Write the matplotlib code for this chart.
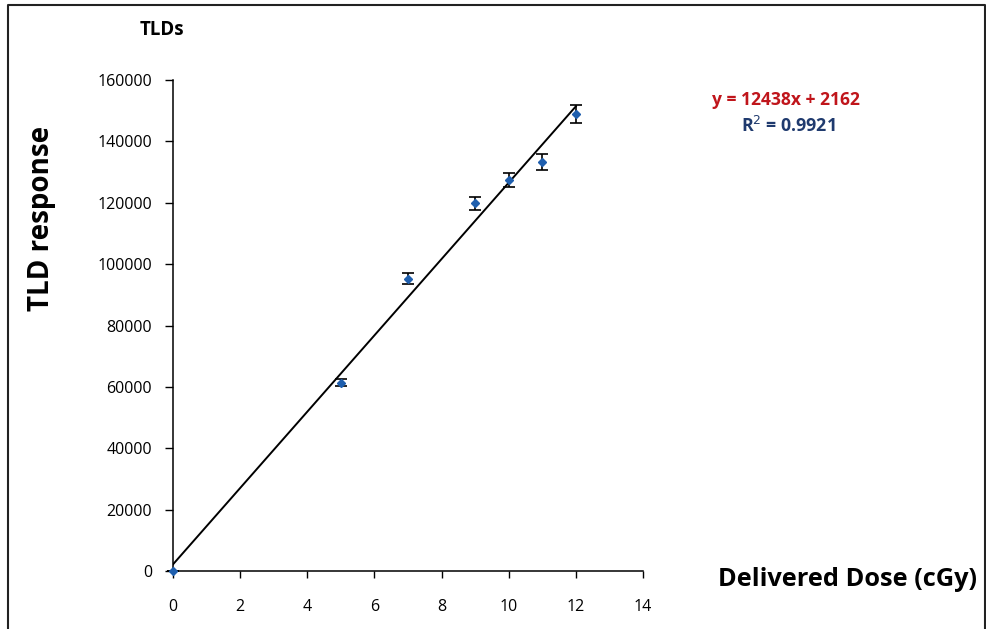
import numpy as np
import matplotlib.pyplot as plt
from matplotlib.lines import Line2D

plt.rcParams['font.family'] = ['Open Sans', 'DejaVu Sans']

# data
dose = [0, 5, 7, 9, 10, 11, 12]
response = [0, 61400, 95300, 119800, 127400, 133300, 148800]
err = [0, 1200, 1900, 2100, 2400, 2700, 2900]

slope = 12438
intercept = 2162
r2 = 0.9921

xticks = [0, 2, 4, 6, 8, 10, 12, 14]
yticks = [0, 20000, 40000, 60000, 80000, 100000, 120000, 140000, 160000]

fig = plt.figure(figsize=(9.86, 6.29), dpi=100)
ax = fig.add_axes([173/986, 1-571/629, (643-173)/986, (571-80)/629])

# trend line
xfit = np.array([0, max(dose)])
ax.plot(xfit, slope*xfit + intercept, color='black', lw=1.4, zorder=2)

ax.errorbar(dose, response, yerr=err, fmt='D', color='#1F5FAE', ms=4.5,
            ecolor='black', elinewidth=1.2, capsize=4, capthick=1.2, zorder=3,
            clip_on=False)

ax.set_xlim(0, 14)
ax.set_ylim(0, 160000)
ax.set_xticks(xticks)
ax.set_yticks(yticks)
ax.tick_params(direction='out', width=1, labelsize=11.5)
ax.tick_params(axis='y', length=6, pad=9)
ax.tick_params(axis='x', length=5, pad=15)
for s in ['top', 'right']:
    ax.spines[s].set_visible(False)
for s in ['left', 'bottom']:
    ax.spines[s].set_linewidth(1.1)

fig.text(42/986, 1-218/629, 'TLD response', rotation=90, fontsize=20,
         fontweight='bold', ha='center', va='center')
fig.text(848/986, 1-580/629, 'Delivered Dose (cGy)', fontsize=18.3,
         fontweight='bold', ha='center', va='center')
fig.text(162/986, 1-30/629, 'TLDs', fontsize=13.5, fontweight='bold',
         ha='center', va='center')
fig.text(786/986, 1-100/629, 'y = %dx + %d' % (slope, intercept), fontsize=12.6,
         fontweight='bold', color='#C0151B', ha='center', va='center')
fig.text(788/986, 1-126/629, 'R$^2$ = %s' % r2, fontsize=12.8,
         fontweight='bold', color='#1F3A6E', ha='center', va='center')

# outer frame
x0, x1, y1 = 8/986, 985/986, 1-5/629
fig.add_artist(Line2D([x0, x0, x1, x1], [0, y1, y1, 0], color='#222222', lw=1.5,
                      transform=fig.transFigure))

fig.savefig('out.png', dpi=100)
